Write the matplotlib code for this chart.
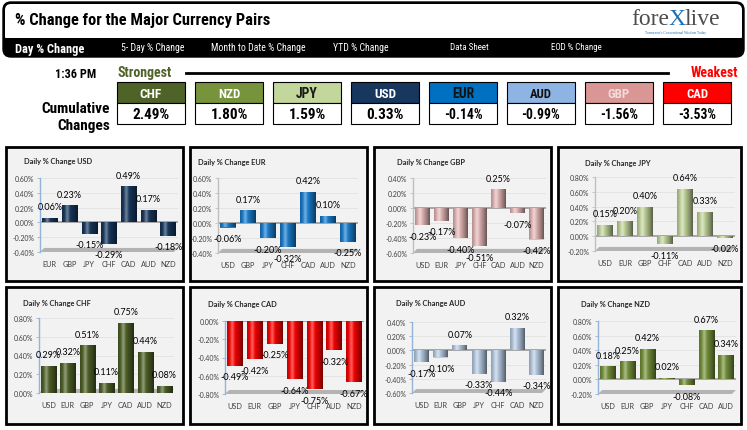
import numpy as np
import matplotlib
matplotlib.use('Agg')
import matplotlib.pyplot as plt
from matplotlib.patches import FancyBboxPatch, Rectangle, Polygon
from matplotlib import font_manager as fm
from matplotlib.ticker import FuncFormatter, MultipleLocator
import matplotlib.colors as mcolors

# ---------------- data ----------------
nav_items = ["Day % Change", "5- Day % Change", "Month to Date % Change",
             "YTD % Change", "Data Sheet", "EOD % Change"]
rank_currencies = ["CHF", "NZD", "JPY", "USD", "EUR", "AUD", "GBP", "CAD"]
rank_changes = [2.49, 1.80, 1.59, 0.33, -0.14, -0.99, -1.56, -3.53]
time_label = "1:36 PM"

usd_pairs = ["EUR", "GBP", "JPY", "CHF", "CAD", "AUD", "NZD"]
usd_vals = [0.06, 0.23, -0.15, -0.29, 0.49, 0.17, -0.18]
eur_pairs = ["USD", "GBP", "JPY", "CHF", "CAD", "AUD", "NZD"]
eur_vals = [-0.06, 0.17, -0.20, -0.32, 0.42, 0.10, -0.25]
gbp_pairs = ["USD", "EUR", "JPY", "CHF", "CAD", "AUD", "NZD"]
gbp_vals = [-0.23, -0.17, -0.40, -0.51, 0.25, -0.07, -0.42]
jpy_pairs = ["USD", "EUR", "GBP", "CHF", "CAD", "AUD", "NZD"]
jpy_vals = [0.15, 0.20, 0.40, -0.11, 0.64, 0.33, -0.02]
chf_pairs = ["USD", "EUR", "GBP", "JPY", "CAD", "AUD", "NZD"]
chf_vals = [0.29, 0.32, 0.51, 0.11, 0.75, 0.44, 0.08]
cad_pairs = ["USD", "EUR", "GBP", "JPY", "CHF", "AUD", "NZD"]
cad_vals = [-0.49, -0.42, -0.25, -0.64, -0.75, -0.32, -0.67]
aud_pairs = ["USD", "EUR", "GBP", "JPY", "CHF", "CAD", "NZD"]
aud_vals = [-0.17, -0.10, 0.07, -0.33, -0.44, 0.32, -0.34]
nzd_pairs = ["USD", "EUR", "GBP", "JPY", "CHF", "CAD", "AUD"]
nzd_vals = [0.18, 0.25, 0.42, 0.02, -0.08, 0.67, 0.34]

# ---------------- fonts ----------------
_entries = fm.fontManager.ttflist
_names = {f.name for f in _entries}
NARROW_KW = None
for cand in ['Liberation Sans Narrow', 'Roboto Condensed', 'DejaVu Sans Condensed',
             'Noto Sans Condensed', 'Open Sans Condensed']:
    if cand in _names:
        NARROW_KW = {'family': cand}
        break
if NARROW_KW is None:
    for f in _entries:
        if str(f.stretch) in ('condensed', 'semi-condensed', 'extra-condensed'):
            NARROW_KW = {'family': f.name, 'stretch': f.stretch}
            break
if NARROW_KW is None:
    NARROW_KW = {'family': 'Roboto' if 'Roboto' in _names else 'DejaVu Sans'}
CHART = 'Lato' if 'Lato' in _names else 'DejaVu Sans'
SERIF = 'Liberation Serif' if 'Liberation Serif' in _names else 'DejaVu Serif'

W, H = 747, 431
fig = plt.figure(figsize=(W / 100, H / 100), dpi=100)
fig.patch.set_facecolor('white')
bg = fig.add_axes([0, 0, 1, 1])
bg.set_xlim(0, W)
bg.set_ylim(H, 0)
bg.axis('off')
bg.set_zorder(0)
R = fig.canvas.get_renderer()


def ax_px(x0, y0, x1, y1):
    return fig.add_axes([x0 / W, 1 - y1 / H, (x1 - x0) / W, (y1 - y0) / H])


def fit(t, width):
    w = t.get_window_extent(R).width
    if w > width:
        t.set_fontsize(t.get_fontsize() * width / w)
    return t


def ntext(x, y, s, width, **kw):
    t = bg.text(x, y, s, **NARROW_KW, **kw)
    return fit(t, width)


# ---------------- header ----------------
bg.add_patch(FancyBboxPatch((3, 3), 741, 55, boxstyle="round,pad=0,rounding_size=8",
                            fc='black', ec='black', lw=1))
bg.add_patch(FancyBboxPatch((5, 5), 737, 38, boxstyle="round,pad=0,rounding_size=6",
                            fc='white', ec='none'))
bg.add_patch(Rectangle((5, 39), 737, 8, fc='black', ec='none'))
ntext(15, 21, "% Change for the Major Currency Pairs", 256, weight='heavy',
      fontsize=12.5, color='black', va='center', ha='left')

# logo
t1 = bg.text(631, 25, "fore", family=SERIF, fontsize=17, color='#4d4d4d', va='baseline', ha='left')
bb = t1.get_window_extent(R)
t2 = bg.text(0, 25, "X", family=SERIF, fontsize=17, color='#1f6fb5', va='baseline', ha='left')
t2.set_x(bg.transData.inverted().transform((bb.x1, 0))[0] - 1)
bb2 = t2.get_window_extent(R)
t3 = bg.text(0, 25, "live", family=SERIF, fontsize=17, color='#4d4d4d', va='baseline', ha='left')
t3.set_x(bg.transData.inverted().transform((bb2.x1, 0))[0] - 1)
bg.text(676, 33, "Tomorrow's Conventional Wisdom Today", family=SERIF, fontsize=2.6,
        color='#1f6fb5', ha='center', va='center')

nav_x = [15, 121, 211, 333, 450, 551]
nav_w = [70, 65, 95, 59, 39, 51]
for i, (lab, x, w) in enumerate(zip(nav_items, nav_x, nav_w)):
    if i == 0:
        ntext(x, 49.5, lab, w, weight='bold', fontsize=9, color='white', va='center', ha='left')
    else:
        ntext(x, 48, lab, w, fontsize=7, color='white', va='center', ha='left')

# ---------------- strength row ----------------
ntext(55, 75, time_label, 41, weight='bold', fontsize=9, color='black', va='center', ha='left')
ntext(118, 73, "Strongest", 62, weight='bold', fontsize=10, color='#4f6228',
      va='center', ha='left')
bg.plot([186, 668], [74, 74], color='black', lw=2)
ntext(738, 73, "Weakest", 66, weight='bold', fontsize=10, color='#ff0000',
      va='center', ha='right')
ntext(110, 109, "Cumulative", 70, weight='bold', fontsize=11, color='black',
      va='center', ha='right')
ntext(110, 126, "Changes", 53, weight='bold', fontsize=11, color='black',
      va='center', ha='right')

box_fc = {"CHF": '#4f6228', "NZD": '#77933c', "JPY": '#c3d69b', "USD": '#17375e',
          "EUR": '#0070c0', "AUD": '#8db4e2', "GBP": '#da9694', "CAD": '#ff0000'}
box_tc = {"CHF": 'white', "NZD": 'white', "JPY": '#1a1a1a', "USD": 'white',
          "EUR": '#111111', "AUD": '#111111', "GBP": '#f2dcdb', "CAD": 'white'}
for i, (cur, chg) in enumerate(zip(rank_currencies, rank_changes)):
    x0 = 117 + 78 * i
    bg.add_patch(Rectangle((x0, 83), 68, 21, fc=box_fc[cur], ec='black', lw=0.8))
    bg.add_patch(Rectangle((x0, 104), 68, 21, fc='white', ec='black', lw=0.8))
    ntext(x0 + 34, 94, cur, 22, weight='bold', fontsize=10, color=box_tc[cur],
          ha='center', va='center')
    ntext(x0 + 34, 115, f"{chg:.2f}%", 38, weight='bold', fontsize=11,
          color='black', ha='center', va='center')

# ---------------- charts ----------------
charts = [
    ("USD", usd_pairs, usd_vals),
    ("EUR", eur_pairs, eur_vals),
    ("GBP", gbp_pairs, gbp_vals),
    ("JPY", jpy_pairs, jpy_vals),
    ("CHF", chf_pairs, chf_vals),
    ("CAD", cad_pairs, cad_vals),
    ("AUD", aud_pairs, aud_vals),
    ("NZD", nzd_pairs, nzd_vals),
]
ylims = {"USD": (-0.4, 0.6), "EUR": (-0.4, 0.6), "GBP": (-0.6, 0.4), "JPY": (-0.2, 0.8),
         "CHF": (0.0, 0.8), "CAD": (-0.8, 0.0), "AUD": (-0.6, 0.4), "NZD": (-0.2, 0.8)}
bar_color = {"USD": '#17375e', "EUR": '#1a7fd0', "GBP": '#e6b9b8', "JPY": '#c3d69b',
             "CHF": '#4f6228', "CAD": '#ff0000', "AUD": '#b9cde5', "NZD": '#77933c'}
spine_col = {"USD": '#95b3d7', "EUR": '#bfbfbf', "GBP": '#bfbfbf', "JPY": '#bfbfbf',
             "CHF": '#95b3d7', "CAD": '#95b3d7', "AUD": '#95b3d7', "NZD": '#95b3d7'}
frames = [(6, 148, 183, 282), (190, 148, 367, 282), (374, 148, 551, 282), (558, 148, 741, 282),
          (6, 288, 183, 425), (190, 288, 367, 425), (374, 288, 551, 425), (558, 288, 741, 425)]
axes_px = [(40, 179, 178, 253), (218, 179, 358, 254), (413, 179, 546, 254), (595, 178, 735, 252),
           (39, 319, 174, 394), (225, 322, 364, 395), (412, 323, 546, 394), (598, 322, 736, 395)]
title_px = [(24, 162), (198, 163), (397, 163), (585, 164),
            (23, 304), (208, 305), (396, 304), (581, 305)]


def cylinder_gradient(color, n=64):
    base = np.array(mcolors.to_rgb(color))
    t = np.linspace(0, 1, n)
    dark = 1 - 0.55 * (np.abs(t - 0.35) / 0.65) ** 1.4
    hl = 0.35 * np.exp(-((t - 0.33) / 0.12) ** 2)
    rgb = base[None, :] * dark[:, None]
    rgb = rgb * (1 - hl[:, None]) + hl[:, None]
    return np.clip(rgb, 0, 1)[None, :, :]


for k, (cur, pairs, vals) in enumerate(charts):
    fx0, fy0, fx1, fy1 = frames[k]
    bg.add_patch(Rectangle((fx0, fy0), fx1 - fx0, fy1 - fy0, fc='#f2f2f2', ec='black', lw=2))
    tx, ty = title_px[k]
    bg.text(tx, ty, f"Daily % Change {cur}", family=CHART, weight='bold', fontsize=5.3,
            color='#262626', ha='left', va='center')

    ax = ax_px(*axes_px[k])
    ax.set_zorder(2)
    ax.patch.set_alpha(0)
    lo, hi = ylims[cur]
    x = np.arange(len(pairs))
    bars = ax.bar(x, vals, width=0.78, color=bar_color[cur], zorder=3)
    grad = cylinder_gradient(bar_color[cur])
    for b in bars:
        bx, by = b.get_x(), b.get_y()
        bw, bh = b.get_width(), b.get_height()
        y0, y1 = (by, by + bh) if bh >= 0 else (by + bh, by)
        im = ax.imshow(grad, extent=[bx, bx + bw, y0, y1], aspect='auto', zorder=3.5,
                       interpolation='bilinear')
        im.set_clip_path(b)
    ax.set_xlim(-0.5, len(pairs) - 0.5)
    ax.set_ylim(lo, hi)
    ax.yaxis.set_major_locator(MultipleLocator(0.2))
    ax.yaxis.set_major_formatter(FuncFormatter(lambda v, p: f"{v:.2f}%"))
    ax.set_xticks(x)
    ax.set_xticklabels(pairs)
    ax.tick_params(axis='x', length=0, pad=6, labelsize=5.3, labelcolor='#404040')
    ax.tick_params(axis='y', length=2, width=0.6, color=spine_col[cur], pad=2,
                   labelsize=5.0, labelcolor='#404040')
    for lab in ax.get_xticklabels() + ax.get_yticklabels():
        lab.set_family(CHART)
    for s in ['top', 'right', 'bottom']:
        ax.spines[s].set_visible(False)
    ax.spines['left'].set_color(spine_col[cur])
    ax.spines['left'].set_linewidth(1)
    ax.grid(axis='y', color='#dedede', lw=0.5, zorder=0)
    ax.set_axisbelow(True)
    # floor
    ax.add_patch(Polygon([(0, 0), (0.97, 0), (1.0, 0.055), (0.03, 0.055)], closed=True,
                         transform=ax.transAxes, fc='#b3b3b3', ec='none', zorder=1))
    if lo < 0 <= hi:
        ax.axhline(0, color='#a6a6a6', lw=1.4, zorder=2)
    for i, v in enumerate(vals):
        off = 8 if v >= 0 else -8
        ax.annotate(f"{v:.2f}%", (i, v), xytext=(0, off), textcoords='offset points',
                    ha='center', va='center', fontsize=6.5, family=CHART, color='black',
                    zorder=5)

fig.savefig('out.png', dpi=100, facecolor='white')
